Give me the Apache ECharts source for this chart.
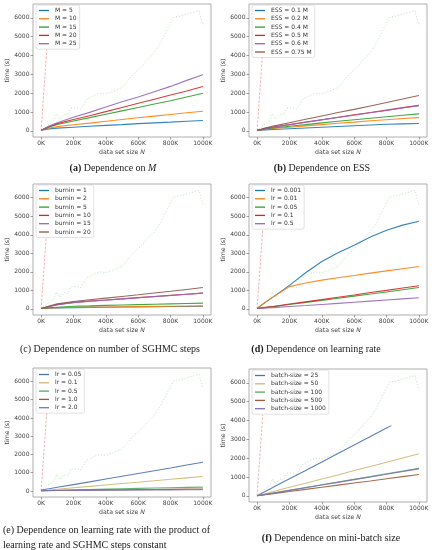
<!DOCTYPE html>
<html>
<head>
<meta charset="utf-8">
<script src="https://cdn.jsdelivr.net/npm/echarts@6/dist/echarts.min.js"></script>
<style>
html,body{margin:0;padding:0;background:#fff;}
#c{width:432px;height:550px;}
</style>
</head>
<body>
<div id="c"></div>
<script>
// ---------- data (x in thousands of samples, y in seconds) ----------
const xK = [0, 50, 100, 200, 300, 400, 500, 600, 700, 800, 900, 1000];
const xTicks = [0, 200, 400, 600, 800, 1000];
const yTicks = [0, 1000, 2000, 3000, 4000, 5000, 6000];

// background reference curves shown in every panel
const refGreenX = [0,20,40,60,80,95,115,130,150,165,185,200,220,245,265,285,305,330,360,380,400,430,460,500,540,580,620,660,700,740,780,820,860,900,940,975,1000];
const refGreenY = [0,150,300,420,550,900,620,800,900,830,1200,1220,1200,1150,1450,1700,1780,1900,2000,1980,1960,2050,2150,2300,2700,3100,3400,3800,4150,4700,5400,6050,6100,6200,6300,6400,5600];
const refRedX = [0, 10, 20, 35];
const refRedY = [0, 1230, 2460, 4300];

// (a) M
const namesA = ['M = 5', 'M = 10', 'M = 15', 'M = 20', 'M = 25'];
const valsA = [
  [30, 100, 140, 190, 240, 290, 330, 380, 420, 460, 510, 550],
  [30, 150, 220, 320, 410, 510, 600, 690, 780, 870, 960, 1040],
  [30, 200, 330, 520, 700, 880, 1060, 1240, 1420, 1600, 1800, 2000],
  [30, 230, 380, 600, 800, 1020, 1240, 1460, 1680, 1900, 2120, 2350],
  [30, 260, 430, 720, 980, 1260, 1540, 1800, 2080, 2360, 2680, 2980]
];
// (b) ESS
const namesB = ['ESS = 0.1 M', 'ESS = 0.2 M', 'ESS = 0.4 M', 'ESS = 0.5 M', 'ESS = 0.6 M', 'ESS = 0.75 M'];
const valsB = [
  [20, 50, 70, 110, 150, 190, 230, 270, 310, 350, 370, 390],
  [20, 80, 120, 190, 260, 330, 400, 460, 530, 590, 650, 700],
  [20, 100, 150, 240, 330, 420, 510, 590, 670, 750, 830, 900],
  [20, 130, 200, 330, 460, 590, 720, 850, 970, 1100, 1230, 1350],
  [20, 120, 190, 320, 450, 580, 710, 830, 960, 1080, 1210, 1330],
  [20, 150, 250, 430, 610, 790, 970, 1140, 1320, 1500, 1690, 1880]
];
// (c) burnin
const namesC = ['burnin = 1', 'burnin = 2', 'burnin = 5', 'burnin = 10', 'burnin = 15', 'burnin = 20'];
const valsC = [
  [20, 35, 50, 70, 80, 90, 100, 110, 115, 125, 130, 140],
  [20, 45, 65, 85, 95, 105, 115, 125, 135, 145, 155, 165],
  [20, 60, 90, 140, 160, 190, 210, 230, 250, 270, 290, 310],
  [20, 130, 230, 350, 420, 480, 540, 610, 670, 730, 790, 850],
  [20, 120, 220, 340, 410, 470, 540, 600, 660, 720, 790, 850],
  [20, 160, 270, 400, 490, 580, 670, 760, 860, 950, 1050, 1150]
];
// (d) learning rate
const namesD = ['lr = 0.001', 'lr = 0.01', 'lr = 0.05', 'lr = 0.1', 'lr = 0.5'];
const valsD = [
  [20, 350, 650, 1270, 1950, 2560, 3030, 3440, 3880, 4240, 4520, 4730],
  [20, 350, 650, 1200, 1400, 1550, 1680, 1800, 1930, 2050, 2170, 2290],
  [20, 70, 120, 240, 350, 460, 570, 690, 800, 910, 1030, 1150],
  [20, 80, 130, 260, 380, 500, 630, 750, 880, 1000, 1130, 1250],
  [20, 45, 70, 130, 180, 240, 300, 360, 420, 480, 540, 600]
];
// (e) learning rate, lr * steps constant
const namesE = ['lr = 0.05', 'lr = 0.1', 'lr = 0.5', 'lr = 1.0', 'lr = 2.0'];
const valsE = [
  [50, 125, 200, 350, 500, 660, 810, 960, 1110, 1260, 1420, 1570],
  [20, 55, 95, 175, 250, 330, 410, 480, 560, 640, 720, 795],
  [20, 30, 40, 60, 80, 100, 120, 140, 160, 180, 195, 210],
  [20, 25, 30, 40, 50, 60, 65, 75, 85, 90, 100, 110],
  [20, 22, 25, 30, 35, 40, 45, 50, 55, 60, 65, 70]
];
// (f) mini-batch size
const namesF = ['batch-size = 25', 'batch-size = 50', 'batch-size = 100', 'batch-size = 500', 'batch-size = 1000'];
const xF25 = [0, 50, 100, 200, 300, 400, 500, 600, 700, 800, 830];
const valsF = [
  [0, 225, 450, 900, 1350, 1800, 2250, 2700, 3150, 3600, 3730],
  [0, 110, 225, 450, 670, 890, 1110, 1340, 1560, 1780, 2010, 2230],
  [0, 75, 145, 290, 440, 585, 730, 875, 1020, 1170, 1310, 1460],
  [0, 57, 113, 226, 340, 450, 565, 680, 790, 905, 1020, 1130],
  [0, 72, 143, 286, 430, 572, 715, 858, 1000, 1145, 1290, 1430]
];

const tab10 = ['#1f77b4', '#ff7f0e', '#2ca02c', '#d62728', '#9467bd', '#8c564b'];
const deep = ['#4c72b0', '#ccb974', '#55a868', '#9a5b3c', '#8172b3'];

// ---------- layout ----------
const panels = [
  {g: {left: 33, top: 4, width: 178, height: 133}, names: namesA, vals: valsA, colors: tab10},
  {g: {left: 249, top: 4, width: 178, height: 133}, names: namesB, vals: valsB, colors: tab10},
  {g: {left: 33, top: 184, width: 178, height: 131}, names: namesC, vals: valsC, colors: tab10},
  {g: {left: 249, top: 184, width: 178, height: 131}, names: namesD, vals: valsD, colors: tab10},
  {g: {left: 33, top: 368, width: 178, height: 129}, names: namesE.map(n => n + '\u200b'), vals: valsE, colors: deep},
  {g: {left: 249, top: 369, width: 178, height: 133}, names: namesF, vals: valsF, colors: deep, xs: [xF25]}
];

const SANS = 'DejaVu Sans';
const SERIF = 'Liberation Serif';
const grid = [], xAxis = [], yAxis = [], series = [], legend = [];

panels.forEach((p, i) => {
  grid.push(Object.assign({show: true, borderColor: '#9a9a9a', borderWidth: 0.8, backgroundColor: '#fff'}, p.g));
  xAxis.push({
    type: 'value', gridIndex: i, min: -50, max: 1050,
    axisLine: {show: false, onZero: false}, splitLine: {show: false},
    axisTick: {show: true, length: 2.5, lineStyle: {color: '#777', width: 0.7}, customValues: xTicks},
    axisLabel: {fontSize: 6, fontFamily: SANS, color: '#444', margin: 3.5, customValues: xTicks, formatter: v => v + 'K'},
    name: 'data set size {i|N}', nameLocation: 'middle', nameGap: 12,
    nameTextStyle: {fontSize: 6.2, fontFamily: SANS, color: '#444',
      rich: {i: {fontStyle: 'italic', fontSize: 6.2, fontFamily: SANS, color: '#444'}}}
  });
  yAxis.push({
    type: 'value', gridIndex: i, min: -330, max: 6740,
    axisLine: {show: false, onZero: false}, splitLine: {show: false},
    axisTick: {show: true, length: 2.5, lineStyle: {color: '#777', width: 0.7}, customValues: yTicks},
    axisLabel: {fontSize: 6, fontFamily: SANS, color: '#444', margin: 3.5, customValues: yTicks, formatter: v => String(v)},
    name: 'time (s)', nameLocation: 'middle', nameGap: 20,
    nameTextStyle: {fontSize: 6.2, fontFamily: SANS, color: '#444'}
  });
  // background references
  series.push({
    type: 'line', name: 'refG' + i, xAxisIndex: i, yAxisIndex: i, symbol: 'none', silent: true, z: 1,
    data: refGreenX.map((x, k) => [x, refGreenY[k]]),
    lineStyle: {color: 'rgba(44,160,44,0.3)', width: 0.9, type: [1.2, 1.8]}
  });
  series.push({
    type: 'line', name: 'refR' + i, xAxisIndex: i, yAxisIndex: i, symbol: 'none', silent: true, z: 1,
    data: refRedX.map((x, k) => [x, refRedY[k]]),
    lineStyle: {color: 'rgba(214,39,40,0.4)', width: 0.9, type: [2.5, 1.5]}
  });
  p.names.forEach((n, j) => {
    const xs = (p.xs && p.xs[j]) ? p.xs[j] : xK;
    series.push({
      type: 'line', name: n, xAxisIndex: i, yAxisIndex: i, symbol: 'none', silent: true, z: 3,
      data: p.vals[j].map((v, k) => [xs[k], v]),
      lineStyle: {color: p.colors[j], width: 1.1, opacity: 0.9},
      itemStyle: {color: p.colors[j]}
    });
  });
  legend.push({
    data: p.names.map(n => ({name: n, icon: 'rect'})), orient: 'vertical', left: p.g.left + 3, top: p.g.top + 1,
    itemWidth: 10, itemHeight: 1.3, itemGap: 1.3, selectedMode: false,
    padding: [2, 3, 2, 3], borderColor: '#cfcfcf', borderWidth: 0.6, borderRadius: 2,
    backgroundColor: 'rgba(255,255,255,0.85)',
    textStyle: {fontSize: 6, fontFamily: SANS, color: '#333', lineHeight: 7, padding: [0, 0, 0, 1]}
  });
});

const capRich = {
  b: {fontWeight: 'bold', fontSize: 10, fontFamily: SERIF, fill: '#222', color: '#222'},
  i: {fontStyle: 'italic', fontSize: 10, fontFamily: SERIF, fill: '#222', color: '#222'}
};
function cap(text, x, y, align) {
  return {type: 'text', x: x, y: y, silent: true,
    style: {text: text, align: align || 'center', verticalAlign: 'middle', fill: '#222',
      font: '10px "Liberation Serif"', rich: capRich}};
}
const graphic = [
  cap('{b|(a)} Dependence on {i|M}', 113, 168),
  cap('{b|(b)} Dependence on ESS', 322, 168),
  cap('(c) Dependence on number of SGHMC steps', 110, 349),
  cap('{b|(d)} Dependence on learning rate', 316, 349),
  cap('(e) Dependence on learning rate with the product of', 3, 530, 'left'),
  cap('learning rate and SGHMC steps constant', 3, 545, 'left'),
  cap('{b|(f)} Dependence on mini-batch size', 331, 538)
];

const chart = echarts.init(document.getElementById('c'), null, {renderer: 'canvas'});
chart.setOption({animation: false, backgroundColor: '#fff', grid, xAxis, yAxis, series, legend, graphic});
</script>
</body>
</html>
